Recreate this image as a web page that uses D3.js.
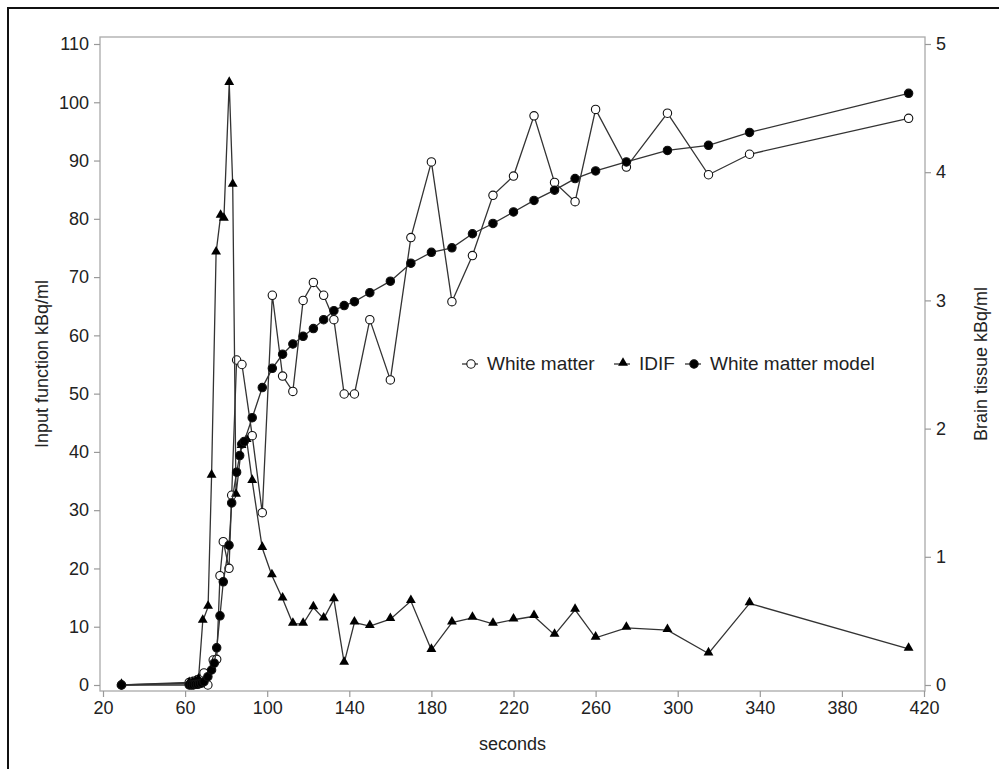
<!DOCTYPE html>
<html>
<head>
<meta charset="utf-8">
<script src="https://cdn.jsdelivr.net/npm/d3@7"></script>
<style>
  body { margin: 0; background: #fff; }
  text { font-family: "Liberation Sans", Arial, sans-serif; fill: #222; }
</style>
</head>
<body>
<script>
// white matter (right axis, kBq/ml)
const tWM = [29, 62, 63, 64, 65, 66, 67, 68, 69.2, 71.1, 73.7, 75.4, 77.0, 78.6, 81.4, 82.7, 85.1, 87.7, 92.7, 97.6,
  102.5, 107.5, 112.5, 117.5, 122.5, 127.5, 132.5, 137.5, 142.5, 150, 160, 170, 180, 190, 200, 210, 220, 230, 240, 250,
  260, 275, 295, 315, 335, 412.5]
const wm = [0, 0.02, 0.01, 0.03, 0.02, 0.04, 0.03, 0.05, 0.094, 0, 0.195, 0.2, 0.853, 1.118, 0.91, 1.48, 2.535, 2.50, 1.945, 1.344,
  3.04, 2.41, 2.29, 3.0, 3.14, 3.04, 2.85, 2.27, 2.27, 2.85, 2.38, 3.49, 4.08, 2.99, 3.35, 3.82, 3.97, 4.44, 3.92, 3.77,
  4.49, 4.04, 4.46, 3.98, 4.14, 4.42]

// white matter model (right axis)
const tModel = [29, 62, 63, 64, 65, 66, 67, 68, 69.2, 71.1, 72.9, 74.2, 75.4, 77.0, 78.6, 81.4, 82.7, 85.1, 86.6, 87.6,
  88.8, 92.7, 97.6, 102.5, 107.5, 112.5, 117.5, 122.5, 127.5, 132.5, 137.5, 142.5, 150, 160, 170, 180, 190, 200, 210, 220,
  230, 240, 250, 260, 275, 295, 315, 335, 412.5]
const model = [0, 0, 0, 0, 0.005, 0.005, 0.01, 0.015, 0.026, 0.065, 0.117, 0.17, 0.29, 0.54, 0.805, 1.09, 1.42, 1.66, 1.79, 1.88,
  1.90, 2.085, 2.32, 2.47, 2.58, 2.66, 2.72, 2.78, 2.85, 2.92, 2.96, 2.99, 3.06, 3.15, 3.29, 3.375, 3.41, 3.52, 3.60, 3.69,
  3.78, 3.86, 3.95, 4.01, 4.08, 4.17, 4.21, 4.31, 4.615]

// image derived input function (left axis)
const tIdif = [29, 62, 63.5, 65, 66.5, 68.6, 71.2, 72.9, 75.1, 77.3, 78.9, 81.5, 83.2, 84.8, 87.5, 90, 92.7, 97.6, 102.3, 107.5,
  112.5, 117.5, 122.5, 127.5, 132.5, 137.5, 142.5, 150, 160, 170, 180, 190, 200, 210, 220, 230, 240, 250, 260, 275,
  295, 315, 335, 412.5]
const idif = [0, 0.3, 0.3, 0.5, 0.9, 11.0, 13.4, 35.9, 74.2, 80.5, 80.0, 103.3, 85.8, 32.6, 41, 42, 35.0, 23.5, 18.8, 14.8,
  10.5, 10.5, 13.3, 11.4, 14.7, 3.8, 10.7, 10.1, 11.3, 14.4, 6.0, 10.7, 11.5, 10.5, 11.2, 11.8, 8.6, 12.9, 8.1, 9.8,
  9.4, 5.4, 14.0, 6.2]

const xTicks = d3.range(20, 421, 40)
const leftTicks = d3.range(0, 111, 10)
const rightTicks = [0, 1, 2, 3, 4, 5]

const W = 999, H = 769
const FS = 18
const svg = d3.select("body").append("svg").attr("width", W).attr("height", H)

// outer border of the figure
svg.append("path").attr("d", "M8,769 L8,8 L999,8").attr("fill", "none").attr("stroke", "#111").attr("stroke-width", 2)

const frame = {l: 100, r: 925, t: 37, b: 691}
const x = d3.scaleLinear().domain([20, 420]).range([103, 924])
const yL = d3.scaleLinear().domain([0, 110]).range([685, 44])
const yR = d3.scaleLinear().domain([0, 5]).range([685, 44])

svg.append("rect").attr("x", frame.l).attr("y", frame.t)
  .attr("width", frame.r - frame.l).attr("height", frame.b - frame.t)
  .attr("fill", "none").attr("stroke", "#aaa").attr("stroke-width", 1.3)

function styleAxis(g) {
  g.select(".domain").remove()
  g.selectAll(".tick line").attr("stroke", "#999").attr("stroke-width", 1.2)
  g.selectAll(".tick text").attr("font-size", FS).style("font-family", '"Liberation Sans", Arial, sans-serif').attr("fill", "#222")
}

svg.append("g").attr("transform", `translate(0,${frame.b})`)
  .call(d3.axisBottom(x).tickValues(xTicks).tickSize(6).tickPadding(4))
  .call(styleAxis)

svg.append("g").attr("transform", `translate(${frame.l},0)`)
  .call(d3.axisLeft(yL).tickValues(leftTicks).tickSize(6).tickPadding(5))
  .call(styleAxis)

svg.append("g").attr("transform", `translate(${frame.r},0)`)
  .call(d3.axisRight(yR).tickValues(rightTicks).tickFormat(d3.format("d")).tickSize(6).tickPadding(5))
  .call(styleAxis)

// axis titles
svg.append("text").attr("x", (frame.l + frame.r) / 2).attr("y", 750)
  .attr("text-anchor", "middle").attr("font-size", FS).text("seconds")
svg.append("text").attr("transform", "translate(48,364) rotate(-90)")
  .attr("text-anchor", "middle").attr("font-size", FS).text("Input function kBq/ml")
svg.append("text").attr("transform", "translate(987,364) rotate(-90)")
  .attr("text-anchor", "middle").attr("font-size", FS).text("Brain tissue kBq/ml")

const lineCol = "#333"
const tri = d3.symbol().type(d3.symbolTriangle).size(42)

function drawSeries(ts, vs, y, kind) {
  const pts = ts.map((t, i) => [x(t), y(vs[i])])
  svg.append("path").datum(pts)
    .attr("d", d3.line())
    .attr("fill", "none").attr("stroke", lineCol).attr("stroke-width", 1.3)
  const g = svg.append("g")
  if (kind === "tri") {
    g.selectAll("path").data(pts).enter().append("path")
      .attr("d", tri).attr("transform", d => `translate(${d[0]},${d[1] - 1})`)
      .attr("fill", "#000")
  } else {
    g.selectAll("circle").data(pts).enter().append("circle")
      .attr("cx", d => d[0]).attr("cy", d => d[1]).attr("r", 4.2)
      .attr("fill", kind === "open" ? "#fff" : "#000")
      .attr("stroke", "#111").attr("stroke-width", 1.1)
  }
}

drawSeries(tWM, wm, yR, "open")
drawSeries(tIdif, idif, yL, "tri")
drawSeries(tModel, model, yR, "filled")

// legend
const legend = [
  {label: "White matter", kind: "open", x: 462},
  {label: "IDIF", kind: "tri", x: 614},
  {label: "White matter model", kind: "filled", x: 685}
]
const ly = 364
legend.forEach(d => {
  svg.append("line").attr("x1", d.x).attr("x2", d.x + 16).attr("y1", ly).attr("y2", ly)
    .attr("stroke", lineCol).attr("stroke-width", 1.3)
  if (d.kind === "tri") {
    svg.append("path").attr("d", tri).attr("transform", `translate(${d.x + 9},${ly - 1})`).attr("fill", "#000")
  } else {
    svg.append("circle").attr("cx", d.x + 9).attr("cy", ly).attr("r", 4.2)
      .attr("fill", d.kind === "open" ? "#fff" : "#000").attr("stroke", "#111").attr("stroke-width", 1.1)
  }
  svg.append("text").attr("x", d.x + 25).attr("y", ly + 6).attr("font-size", 19).text(d.label)
})
</script>
</body>
</html>
